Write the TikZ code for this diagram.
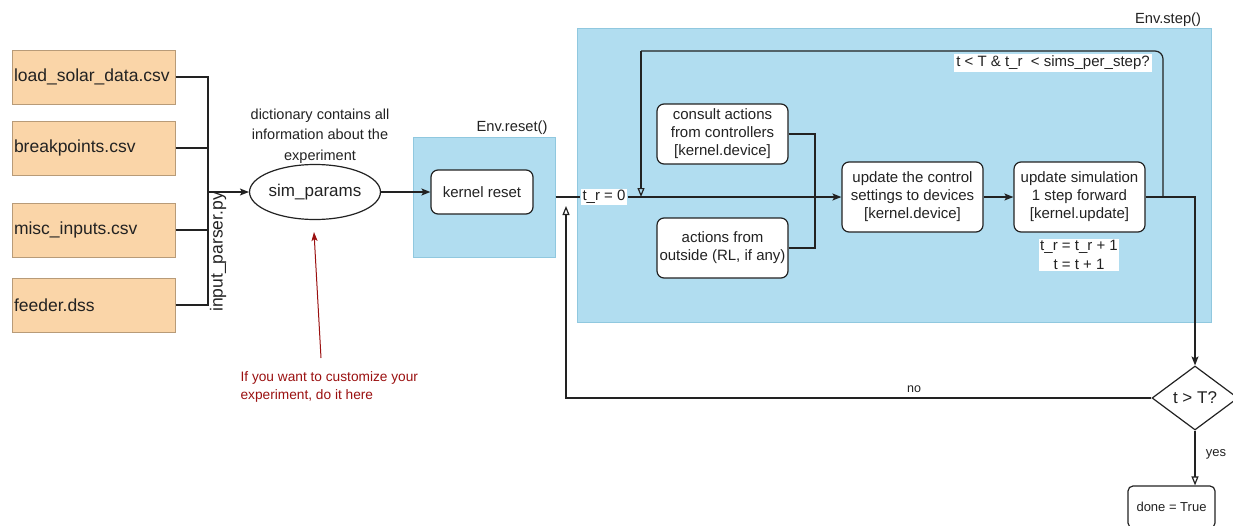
\documentclass[tikz,border=0pt]{standalone}
\usepackage{fontspec}
\setmainfont{Liberation Sans}
\usetikzlibrary{shapes.geometric,arrows.meta,positioning,calc}
\definecolor{orfill}{HTML}{FAD5A8}
\definecolor{ordraw}{HTML}{B89B78}
\definecolor{blfill}{HTML}{B1DDF0}
\definecolor{bldraw}{HTML}{90C8DF}
\definecolor{ink}{HTML}{222222}
\definecolor{darkred}{HTML}{9A1010}
\newcommand{\fs}[2]{\fontsize{#1pt}{#2pt}\selectfont}
\begin{document}
\begin{tikzpicture}[x=1pt,y=-1pt,
  line width=1.2pt, draw=ink, text=ink,
  filebox/.style={draw=ordraw, line width=1pt, fill=orfill, minimum width=163pt, minimum height=54pt,
    text width=159pt, align=left, inner sep=2pt, font=\fs{17.5}{21}},
  envbox/.style={draw=bldraw, line width=1pt, fill=blfill},
  procbox/.style={draw=ink, fill=white, rounded corners=7pt, align=center, inner sep=1pt, font=\fs{15}{18}},
  lbl/.style={font=\fs{15}{18}, inner sep=1pt, align=center},
  solid arrow/.style={-{Stealth[length=9pt,width=7pt,inset=2pt]}},
  open arrow/.style={-{Triangle[open,length=9pt,width=7pt]}},
  ]
\useasboundingbox (0,0) rectangle (1233,525);

% input files
\node[filebox] (f1) at (93.5,77) {load\_solar\_data.csv};
\node[filebox] (f2) at (93.5,148) {breakpoints.csv};
\node[filebox] (f3) at (93.5,230) {misc\_inputs.csv};
\node[filebox] (f4) at (93.5,305) {feeder.dss};

\coordinate (j) at (208,192);
\draw (f1.east) -| (j);
\draw (f4.east) -| (j);
\draw (f2.east) -- (f2.east -| j);
\draw (f3.east) -- (f3.east -| j);
\node[rotate=90, font=\fs{17.5}{21}, inner sep=0pt] (parser) at (218,252) {input\_parser.py};

% sim_params
\node[ellipse, draw=ink, minimum width=130pt, minimum height=55pt, font=\fs{17}{20}, inner sep=0pt] (sim) at (315,192) {sim\_params};
\draw[solid arrow] (j) -- (sim.west);
\node[lbl, font=\fs{14.5}{20.5}] (dict) at (320,136) {dictionary contains all\\information about the\\experiment};

% Env.reset
\node[envbox, minimum width=142pt, minimum height=120pt] (reset) at (484,197) {};
\node[lbl, font=\fs{14.7}{17}, anchor=east] (resetlbl) at (549,128) {Env.reset()};
\node[procbox, minimum width=102pt, minimum height=44pt] (kreset) at (482,192) {kernel reset};
\draw[solid arrow] (sim.east) -- (sim.east -| kreset.west);

% Env.step
\node[envbox, minimum width=634pt, minimum height=294pt] (step) at (894,175) {};
\node[lbl, font=\fs{14.7}{17}] (steplbl) at (1168,20) {Env.step()};

\node[procbox, minimum width=131pt, minimum height=60pt] (consult) at (722.5,134) {consult actions\\from controllers\\{[kernel.device]}};
\node[procbox, minimum width=131pt, minimum height=60pt] (outside) at (722.5,248) {actions from\\outside (RL, if any)};
\node[procbox, minimum width=141pt, minimum height=70pt] (ctrl) at (912.5,197) {update the control\\settings to devices\\{[kernel.device]}};
\node[procbox, minimum width=131pt, minimum height=70pt] (upd) at (1079.5,197) {update simulation\\1 step forward\\{[kernel.update]}};
\node[lbl, fill=white, font=\fs{15}{19}] (incr) at (1079,255) {t\_r = t\_r + 1\\t = t + 1};

\node[lbl, fill=white, inner sep=1.5pt] (tr0) at (604,197) {t\_r = 0};
\draw (reset.east) -- (tr0.west);
\draw[solid arrow] (tr0.east) -- (ctrl.west);

\coordinate (jj) at (815,197);
\draw (consult.east) -| (jj);
\draw (outside.east) -| (jj);

\draw[solid arrow] (ctrl.east) -- (upd.west);

% loop back
\coordinate (lp1) at (1163,197);
\coordinate (tl) at (641,51);
\coordinate (lp2) at (641,197);
\draw[rounded corners=8pt] (lp1) |- (tl);
\draw[open arrow] (tl) -- (lp2);
\node[lbl, fill=white, inner sep=2pt] (cond) at (1053,63) {t < T \& t\_r\ \ < sims\_per\_step?};

% decision
\node[diamond, draw=ink, minimum width=86pt, minimum height=64pt, aspect=1.34, inner sep=0pt, font=\fs{17}{20}] (dia) at (1195,398) {t > T?};
\draw[solid arrow] (upd.east) -| (dia.north);

\coordinate (noend) at (566,206);
\draw[open arrow] (dia.west) -| (noend);
\node[lbl, font=\fs{12.5}{14}] (nolbl) at (914,389) {no};

\node[procbox, rounded corners=5pt, minimum width=87pt, minimum height=42pt, font=\fs{13}{15}] (done) at (1171.5,507) {done = True};
\draw[open arrow] (dia.south) -- (dia.south |- done.north);
\node[lbl, font=\fs{13}{15}] (yeslbl) at (1216,454) {yes};

% customization note
\coordinate (redstart) at (321,358);
\coordinate (redend) at (314,232);
\draw[darkred, line width=1pt, -{Stealth[length=9pt,width=6pt,inset=2pt]}] (redstart) -- (redend);
\node[anchor=north west, align=left, text=darkred, font=\fs{13.7}{18}, inner sep=0pt] (note) at (240,371) {If you want to customize your\\experiment, do it here};
\end{tikzpicture}
\end{document}
